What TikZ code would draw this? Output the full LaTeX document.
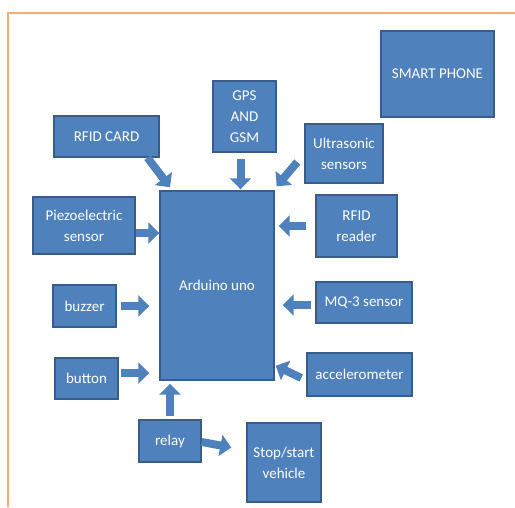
\documentclass[tikz,border=0pt]{standalone}
\usepackage{fontspec}
\setmainfont{Carlito}
\usepackage{xcolor}
\usepackage{tikz}
\usetikzlibrary{arrows.meta}
\definecolor{unitblue}{RGB}{79,129,189}
\definecolor{unitedge}{RGB}{56,93,138}
\definecolor{frameorange}{RGB}{247,172,112}

\begin{document}
\begin{tikzpicture}[
      x=1pt, y=-1pt,
      unit/.style={rectangle, draw=unitedge, line width=1.4pt, fill=unitblue, text=white,
        align=center, inner sep=0pt, font=\fontsize{15}{21}\selectfont},
      link/.style={-{Triangle[length=11pt,width=21pt]}, line width=8pt, color=unitblue}
    ]
    \useasboundingbox (0,0) rectangle (515,507);
    \draw[frameorange, line width=2pt] (8,507) -- (8,13) -- (515,13);

    \node[unit, minimum width=114pt, minimum height=189pt] (arduino) at (217,285.5) {Arduino uno};
    \node[unit, minimum width=113pt, minimum height=86pt] (phone) at (437.5,74) {SMART PHONE};
    \node[unit, minimum width=63pt, minimum height=71pt] (gps) at (244.5,116.5) {GPS\\AND\\GSM};
    \node[unit, minimum width=105pt, minimum height=41pt] (rfidcard) at (106.5,136.5) {RFID CARD};
    \node[unit, minimum width=78pt, minimum height=59pt] (ultra) at (344,153.5) {Ultrasonic\\sensors};
    \node[unit, minimum width=102pt, minimum height=57pt] (piezo) at (84,225.5) {Piezoelectric\\sensor};
    \node[unit, minimum width=63pt, minimum height=42pt] (buzzer) at (84.5,306) {buzzer};
    \node[unit, minimum width=63pt, minimum height=41pt] (button) at (86.5,378.5) {button};
    \node[unit, minimum width=62pt, minimum height=42pt] (relay) at (170,441) {relay};
    \node[unit, minimum width=74pt, minimum height=79pt] (stop) at (284,462.5) {Stop/start\\vehicle};
    \node[unit, minimum width=81pt, minimum height=62pt] (rfidreader) at (356.5,226) {RFID\\reader};
    \node[unit, minimum width=96pt, minimum height=41pt] (mq3) at (364,302.5) {MQ-3 sensor};
    \node[unit, minimum width=105pt, minimum height=43pt] (accel) at (359.5,374.5) {accelerometer};

    % inputs from the top
    \draw[link] ([xshift=41pt]rfidcard.south) -- ([xshift=-47pt,yshift=3pt]arduino.north);
    \draw[link, shorten <=6pt, shorten >=1pt] ([xshift=-4pt]gps.south) -- ([xshift=-4pt]gps.south |- arduino.north);
    \draw[link] ([xshift=-7pt,yshift=-8.5pt]ultra.west) -- ([xshift=2pt,yshift=4pt]arduino.north east);

    % left side
    \draw[link] ([yshift=-7.5pt]piezo.east) -- ([yshift=-7.5pt]piezo.east -| arduino.west);
    \draw[link, shorten <=4pt, shorten >=10pt] (buzzer.east) -- (buzzer.east -| arduino.west);
    \draw[link, shorten <=2pt, shorten >=10pt] ([yshift=5.5pt]button.east) -- ([yshift=5.5pt]button.east -| arduino.west);

    % right side
    \draw[link, shorten <=9pt, shorten >=4pt] (rfidreader.west) -- (rfidreader.west -| arduino.east);
    \draw[link, shorten <=4pt, shorten >=8pt] ([yshift=-2.5pt]mq3.west) -- ([yshift=-2.5pt]mq3.west -| arduino.east);
    \draw[link] ([xshift=-5pt,yshift=-3.5pt]accel.west) -- ([xshift=1pt,yshift=15pt]arduino.south east);

    % relay
    \draw[link, shorten <=3pt, shorten >=3pt] (relay.north) -- (relay.north |- arduino.south);
    \draw[link] ([yshift=-1pt]relay.east) -- ([xshift=-15pt,yshift=15pt]stop.west);
  \end{tikzpicture}
\end{document}
